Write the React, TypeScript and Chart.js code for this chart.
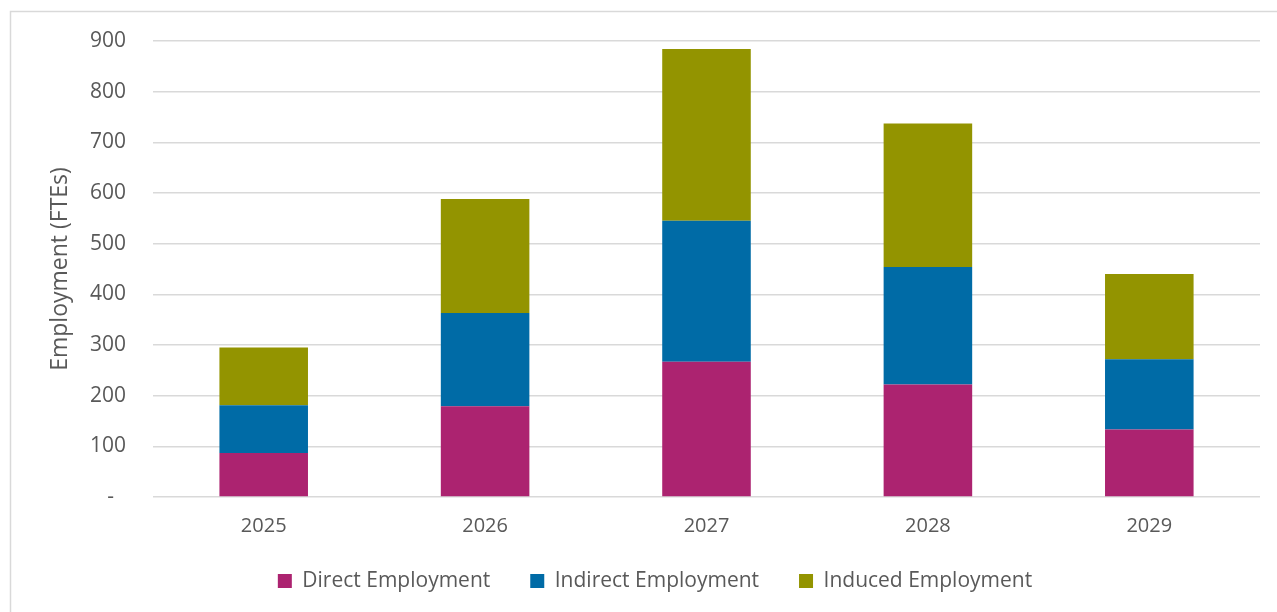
import React, { useEffect, useRef } from "react";
import { Chart, registerables } from "chart.js";

Chart.register(...registerables);

const categories = ["2025", "2026", "2027", "2028", "2029"];
const directEmployment = [87, 179, 267, 222, 133];
const indirectEmployment = [94, 184, 278, 232, 139];
const inducedEmployment = [114, 225, 339, 283, 168];
const yTicks = [0, 100, 200, 300, 400, 500, 600, 700, 800, 900];

const FONT = "'Open Sans', 'Noto Sans', sans-serif";
const TEXT = "#595959";
const GRID = "#d9d9d9";

const borderPlugin = {
  id: "outerBorder",
  beforeDraw(chart: any) {
    const ctx = chart.ctx;
    ctx.save();
    ctx.strokeStyle = GRID;
    ctx.lineWidth = 1.5;
    ctx.beginPath();
    ctx.moveTo(10.5, chart.height + 5);
    ctx.lineTo(10.5, 11.5);
    ctx.lineTo(chart.width + 5, 11.5);
    ctx.stroke();
    ctx.restore();
  },
};

const legendShiftPlugin = {
  id: "legendShift",
  afterLayout(chart: any) {
    const lg = chart.legend;
    if (!lg) return;
    const dy = -7.5;
    const dx = 20;
    lg.top += dy;
    lg.bottom += dy;
    lg.left += dx;
    lg.right += dx;
  },
};

export default function App() {
  const ref = useRef<HTMLCanvasElement>(null);

  useEffect(() => {
    if (!ref.current) return;
    const chart = new Chart(ref.current, {
      type: "bar",
      data: {
        labels: categories,
        datasets: [
          {
            label: "Direct Employment",
            data: directEmployment,
            backgroundColor: "#ac2370",
            barPercentage: 0.4,
            categoryPercentage: 1,
          },
          {
            label: "Indirect Employment",
            data: indirectEmployment,
            backgroundColor: "#006ba6",
            barPercentage: 0.4,
            categoryPercentage: 1,
          },
          {
            label: "Induced Employment",
            data: inducedEmployment,
            backgroundColor: "#939400",
            barPercentage: 0.4,
            categoryPercentage: 1,
          },
        ],
      },
      options: {
        animation: false,
        responsive: false,
        maintainAspectRatio: false,
        layout: { padding: { left: 10, right: 17, top: 41, bottom: 3 } },
        plugins: {
          tooltip: { enabled: false },
          legend: {
            position: "bottom",
            labels: {
              boxWidth: 14,
              boxHeight: 14,
              padding: 40,
              color: TEXT,
              font: { family: FONT, size: 21 },
            },
          },
        },
        scales: {
          x: {
            stacked: true,
            grid: { display: false, drawTicks: false },
            border: { display: false },
            ticks: {
              color: TEXT,
              font: { family: FONT, size: 20 },
              padding: 17,
            },
            afterFit(scale: any) {
              scale.height = 41;
            },
          },
          y: {
            stacked: true,
            min: 0,
            max: 900,
            afterBuildTicks(scale: any) {
              scale.ticks = yTicks.map((v) => ({ value: v }));
            },
            ticks: {
              color: TEXT,
              font: { family: FONT, size: 21 },
              padding: 27,
              callback: (v: any) => (Number(v) === 0 ? "-\u2007" : String(v)),
            },
            grid: { color: GRID, lineWidth: 1.5, drawTicks: false },
            border: { display: false },
            title: {
              display: true,
              text: "Employment (FTEs)",
              color: TEXT,
              font: { family: FONT, size: 23 },
              padding: { top: 37, bottom: 0 },
            },
            afterFit(scale: any) {
              scale.width = 143;
            },
          },
        },
      },
      plugins: [borderPlugin, legendShiftPlugin],
    });
    return () => chart.destroy();
  }, []);

  return (
    <div style={{ position: "absolute", left: 0, top: 0, width: 1277, height: 612 }}>
      <canvas ref={ref} width={1277} height={612} style={{ display: "block" }} />
    </div>
  );
}
